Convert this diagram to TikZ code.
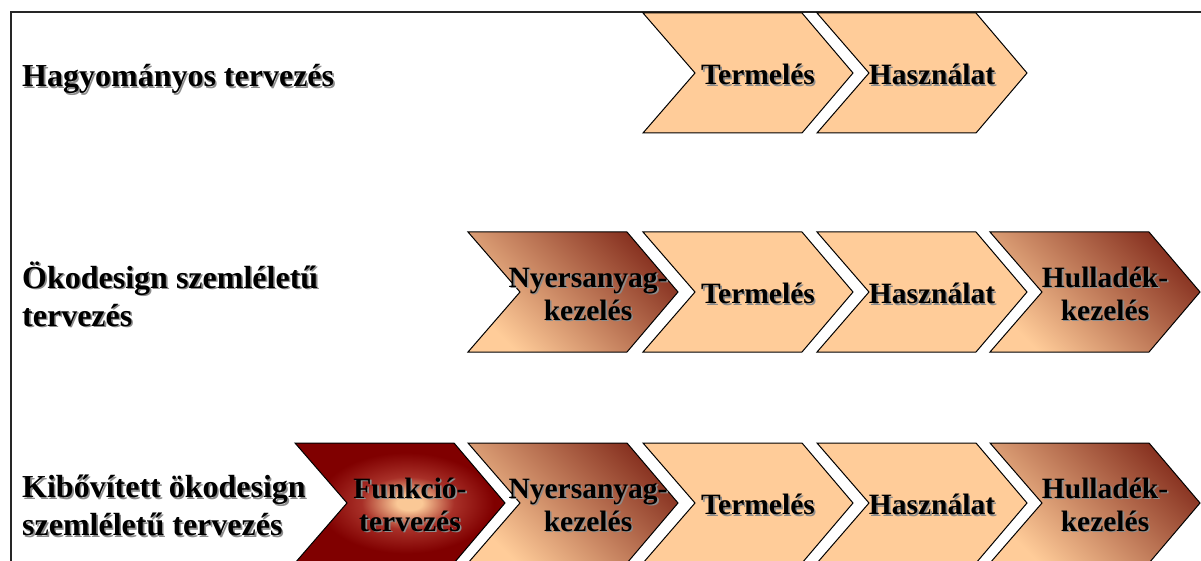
\documentclass[tikz,border=0pt]{standalone}
\usepackage{fontspec}
\setmainfont{Liberation Serif}

\definecolor{peach}{HTML}{FFCC99}
\definecolor{peachc}{HTML}{FAC896}
\definecolor{rust}{HTML}{86301F}
\definecolor{midred}{HTML}{A83028}
\definecolor{dkred}{HTML}{800000}
\definecolor{shadowgray}{HTML}{8C8C8C}

% glow from the middle of the chevron towards its dark edges
\pgfdeclareradialshading{funkshade}{\pgfpoint{2.4bp}{0bp}}{%
  color(0bp)=(peachc); color(3bp)=(peachc); color(11bp)=(midred);
  color(21bp)=(dkred); color(50bp)=(dkred)}

% bold text with a soft offset shadow
\newcommand\sht[1]{\strut\rlap{\kern1.6pt\raisebox{-1.6pt}{\color{shadowgray}#1}}#1}

% chevron: name, left x, top y, fill style, text
\newcommand\chevron[6][115]{%
  \path[chev,#5] (#3,#4) -- ++(159,0) -- ++(51,60) -- ++(-51,60)
     -- ++(-159,0) -- ++(52,-60) -- cycle;
  \node[chevtext] (#2) at (#3+#1,#4+65) {#6};}

\begin{document}
\begin{tikzpicture}[x=1pt,y=-1pt,
  chev/.style={draw=black, line width=1pt, line join=miter},
  plain/.style={fill=peach},
  grad/.style={top color=rust, bottom color=peach, shading angle=-45},
  glow/.style={shading=funkshade},
  chevtext/.style={font=\fontsize{29.5}{33}\selectfont\bfseries,
    align=center, inner sep=0pt},
  rowlabel/.style={font=\fontsize{32}{38}\selectfont\bfseries,
    align=left, anchor=west, inner sep=0pt},
  frame/.style={line width=2pt, black!85}]

\useasboundingbox (0,0) rectangle (1201,561);
\clip (0,0) rectangle (1201,561);
\fill[white] (0,0) rectangle (1201,561);

% frame lines along the top and the left
\draw[frame] (11,561) -- (11,12) -- (1201,12);

% row labels
\node[rowlabel] (hagy) at (22,79.4) {\sht{Hagyományos tervezés}};
\node[rowlabel] (oko) at (22,299.4) {\sht{Ökodesign szemléletű}\\\sht{tervezés}};
\node[rowlabel] (kib) at (22,508.9) {\sht{Kibővített ökodesign}\\\sht{szemléletű tervezés}};

% traditional design
\chevron{t1}{643}{13}{plain}{\sht{Termelés}}
\chevron{h1}{817}{13}{plain}{\sht{Használat}}

% ecodesign
\chevron[120]{n2}{468}{232}{grad}{\sht{Nyersanyag-}\\\sht{kezelés}}
\chevron{t2}{643}{232}{plain}{\sht{Termelés}}
\chevron{h2}{817}{232}{plain}{\sht{Használat}}
\chevron{w2}{990}{232}{grad}{\sht{Hulladék-}\\\sht{kezelés}}

% extended ecodesign
\chevron{f3}{295}{443}{glow}{\sht{Funkció-}\\\sht{tervezés}}
\chevron[120]{n3}{468}{443}{grad}{\sht{Nyersanyag-}\\\sht{kezelés}}
\chevron{t3}{643}{443}{plain}{\sht{Termelés}}
\chevron{h3}{817}{443}{plain}{\sht{Használat}}
\chevron{w3}{990}{443}{grad}{\sht{Hulladék-}\\\sht{kezelés}}
\end{tikzpicture}
\end{document}
